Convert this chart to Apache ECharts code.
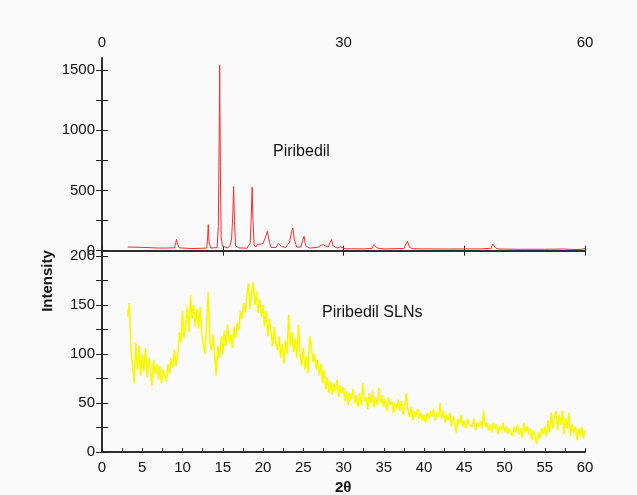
<!DOCTYPE html>
<html>
<head>
<meta charset="utf-8">
<script src="https://cdn.jsdelivr.net/npm/echarts@6/dist/echarts.min.js"></script>
<style>
  html, body { margin: 0; padding: 0; background: #fafafa; }
  #chart { width: 637px; height: 495px; }
</style>
</head>
<body>
<div id="chart"></div>
<script>
// top panel: Piribedil (crystalline), 2theta vs counts
const xrdAngle = [3.2, 5, 7, 7.9, 8.0, 8.1, 9.0, 9.15, 9.25, 9.4, 9.6, 11, 12.4, 12.5, 12.6, 13.0, 13.1, 13.2, 13.3, 13.5,
  14.3, 14.45, 14.55, 14.62, 14.7, 14.8, 14.95, 15.3, 15.6, 15.9, 16.1, 16.25, 16.35, 16.45, 16.6, 17.0, 18.0, 18.4, 18.55, 18.65,
  18.75, 18.9, 19.1, 19.3, 19.5, 19.7, 19.85, 20.0, 20.3, 20.55, 20.8, 21.0, 21.6, 21.9, 22.1, 22.3, 22.8, 23.3, 23.55, 23.7,
  23.9, 24.2, 24.7, 24.95, 25.1, 25.3, 25.8, 26.8, 27.2, 27.5, 27.8, 28.1, 28.35, 28.5, 28.7, 29.2, 29.6, 29.75, 30.2, 31,
  32.5, 33.5, 33.8, 33.95, 34.2, 35, 37.5, 37.8, 37.95, 38.2, 38.6, 40, 43, 46.6, 46.8, 47.0, 48.3, 48.55, 48.65, 48.9,
  49.3, 52, 55, 57.5, 57.7, 57.9, 59, 59.6, 60]
const xrdCounts = [30, 28, 22, 22, 30, 22, 24, 60, 94, 50, 24, 18, 20, 34, 20, 22, 80, 217, 70, 22,
  26, 200, 900, 1540, 700, 120, 40, 30, 24, 40, 97, 300, 533, 250, 40, 24, 20, 60, 300, 528,
  250, 50, 30, 50, 35, 55, 40, 60, 110, 161, 70, 28, 26, 60, 75, 35, 28, 70, 160, 189,
  90, 30, 30, 90, 119, 40, 22, 28, 45, 50, 38, 30, 70, 92, 40, 22, 33, 30, 16, 16,
  15, 18, 50, 64, 22, 15, 18, 60, 78, 28, 16, 15, 14, 15, 28, 15, 20, 55, 64, 22,
  14, 12, 12, 14, 22, 12, 10, 12, 18]

// bottom panel: Piribedil SLNs, sampled every 0.2 deg from 3.2 to 60
const slnStart = 3.2
const slnStep = 0.2
const slnCounts = [
  138, 152, 104, 88,
  70, 112, 84, 108, 78,   100, 82, 106, 76, 96,   86, 68, 94, 80, 90,   74, 88, 70, 84, 78,
  72, 90, 80, 96, 86,     104, 88, 98, 122, 112,  144, 116, 130, 148, 122, 160, 136, 150, 128, 146,
  126, 148, 120, 108, 100, 130, 163, 112, 104, 120, 98, 78, 108, 96, 118, 100, 124, 108, 130, 112,
  120, 106, 128, 116, 132, 124, 144, 136, 152, 142, 160, 172, 146, 162, 173, 150, 164, 142, 156, 138,
  150, 128, 144, 118, 136, 122, 108, 128, 112, 104, 118, 96, 110, 90, 114, 100, 140, 108, 122, 102,
  116, 96, 130, 100, 88,  106, 84, 98, 80, 118,   108, 92, 100, 84, 94,   78, 90, 70, 84, 64,
  76, 60, 72, 58, 70,     62, 74, 56, 68, 60,     66, 52, 62, 48, 60,     54, 64, 50, 58, 46,
  60, 48, 70, 52, 56,     44, 60, 50, 62, 46,     56, 48, 66, 50, 58,     46, 54, 42, 56, 48,
  52, 40, 50, 44, 54,     42, 52, 38, 46, 60,     44, 36, 46, 32, 42,     36, 44, 34, 40, 32,
  38, 30, 40, 34, 42,     36, 44, 32, 40, 36,     50, 34, 42, 30, 38,     32, 40, 26, 36, 30,
  20, 34, 28, 38, 26,     32, 24, 34, 28, 30,     26, 34, 22, 30, 26,     32, 24, 42, 26, 30,
  22, 28, 20, 30, 24,     28, 18, 26, 22, 30,     20, 26, 18, 24, 22,     16, 26, 20, 28, 18,
  24, 14, 30, 20, 26,     18, 24, 12, 22, 16,     8, 20, 14, 24, 18,      26, 16, 32, 20, 40,
  24, 36, 42, 22, 38,     28, 42, 18, 34, 24,     40, 16, 28, 20, 26,     12, 24, 16, 26, 14,
  22
]

const topTickValues = [0, 250, 500, 750, 1000, 1250, 1500]
const topLabelValues = [0, 500, 1000, 1500]

const xrdData = xrdAngle.map((a, i) => [a, xrdCounts[i]])
const slnData = slnCounts.map((v, i) => [+(slnStart + i * slnStep).toFixed(1), v])

const axisCol = '#222'
const plain = (v) => String(v)
const lab = { color: '#111', fontSize: 15, fontFamily: 'Liberation Sans, Arial, sans-serif', formatter: plain }

let chart = echarts.init(document.getElementById('chart'))
let option = {
  backgroundColor: '#fafafa',
  animation: false,
  grid: [
    { left: 102, right: 52, top: 58, height: 198 },
    { left: 102, right: 52, top: 256, height: 196 },
  ],
  xAxis: [
    {
      type: 'value', gridIndex: 0, position: 'top', min: 0, max: 60, interval: 15,
      axisLine: { lineStyle: { color: axisCol, width: 1.5 } },
      axisTick: { inside: true, length: 5, lineStyle: { color: axisCol } },
      axisLabel: Object.assign({}, lab, { margin: 8, formatter: (v) => (v % 30 === 0 ? String(v) : '') }),
      splitLine: { show: false },
    },
    {
      type: 'value', gridIndex: 0, position: 'bottom', min: 0, max: 60, interval: 15,
      axisLine: { lineStyle: { color: axisCol, width: 1.5 } },
      axisTick: { inside: true, length: 5, lineStyle: { color: axisCol } },
      axisLabel: { show: false },
      splitLine: { show: false },
    },
    {
      type: 'value', gridIndex: 1, position: 'bottom', min: 0, max: 60, interval: 5,
      axisLine: { lineStyle: { color: axisCol, width: 1.5 } },
      axisTick: { inside: true, length: 4, lineStyle: { color: axisCol } },
      minorTick: { show: true, splitNumber: 2, length: 4, lineStyle: { color: axisCol } },
      axisLabel: Object.assign({}, lab, { margin: 8 }),
      splitLine: { show: false },
    },
    {
      type: 'value', gridIndex: 1, position: 'top', min: 0, max: 60,
      axisLine: { lineStyle: { color: axisCol, width: 1.5 } },
      axisTick: { show: false },
      axisLabel: { show: false },
      splitLine: { show: false },
    },
  ],
  yAxis: [
    {
      type: 'value', gridIndex: 0, position: 'left', min: -44, max: 1600,
      axisLine: { show: true, lineStyle: { color: axisCol, width: 1.5 } },
      axisTick: { show: true, inside: true, length: 6, customValues: topTickValues, lineStyle: { color: axisCol } },
      axisLabel: Object.assign({}, lab, { margin: 7, customValues: topLabelValues }),
      splitLine: { show: false },
    },
    {
      type: 'value', gridIndex: 0, position: 'right', min: -44, max: 1600,
      axisLine: { show: true, lineStyle: { color: axisCol, width: 1.5 } },
      axisTick: { show: true, inside: true, length: 6, customValues: topTickValues, lineStyle: { color: axisCol } },
      axisLabel: { show: false },
      splitLine: { show: false },
    },
    {
      type: 'value', gridIndex: 1, position: 'left', min: 0, max: 200, interval: 50,
      axisLine: { show: true, lineStyle: { color: axisCol, width: 1.5 } },
      axisTick: { show: true, inside: true, length: 6, lineStyle: { color: axisCol } },
      minorTick: { show: true, splitNumber: 2, length: 6, lineStyle: { color: axisCol } },
      axisLabel: Object.assign({}, lab, { margin: 7 }),
      splitLine: { show: false },
    },
    {
      type: 'value', gridIndex: 1, position: 'right', min: 0, max: 200, interval: 50,
      axisLine: { show: true, lineStyle: { color: axisCol, width: 1.5 } },
      axisTick: { show: true, inside: true, length: 6, lineStyle: { color: axisCol } },
      minorTick: { show: true, splitNumber: 2, length: 6, lineStyle: { color: axisCol } },
      axisLabel: { show: false },
      splitLine: { show: false },
    },
  ],
  series: [
    {
      type: 'line', xAxisIndex: 0, yAxisIndex: 0, data: xrdData,
      showSymbol: false, lineStyle: { color: '#ff2a2a', width: 1 },
    },
    {
      type: 'line', xAxisIndex: 2, yAxisIndex: 2, data: slnData,
      showSymbol: false, lineStyle: { color: '#f8f800', width: 1.6 },
    },
  ],
  graphic: [
    { type: 'text', left: 273, top: 144, style: { text: 'Piribedil', fill: '#111', font: '16px Liberation Sans, Arial, sans-serif' } },
    { type: 'text', left: 322, top: 305, style: { text: 'Piribedil SLNs', fill: '#111', font: '16px Liberation Sans, Arial, sans-serif' } },
    { type: 'text', x: 48, y: 281, rotation: Math.PI / 2, style: { text: 'Intensity', fill: '#111', font: 'bold 15px Liberation Sans, Arial, sans-serif', align: 'center', verticalAlign: 'middle' } },
    { type: 'text', left: 335, top: 480, style: { text: '2θ', fill: '#111', font: 'bold 15px Liberation Sans, Arial, sans-serif' } },
  ],
}
chart.setOption(option)
</script>
</body>
</html>
